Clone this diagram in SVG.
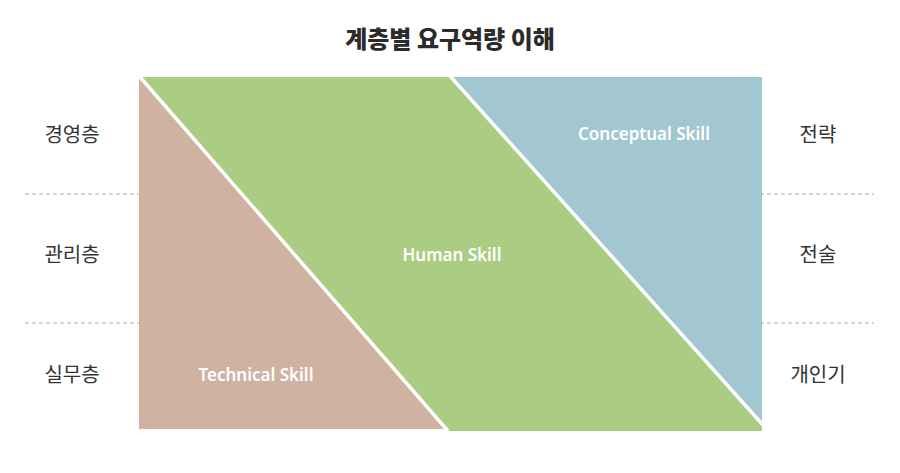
<svg xmlns="http://www.w3.org/2000/svg" width="900" height="473" viewBox="0 0 900 473">
<style>
.lab{font-family:"Noto Sans CJK KR","Noto Sans",sans-serif;font-size:20px;fill:#333;text-anchor:middle}
.sk{font-family:"Noto Sans","Noto Sans CJK KR",sans-serif;font-size:17px;font-weight:600;fill:#fff;text-anchor:middle}
.dash{stroke:#aaa;stroke-width:1;stroke-dasharray:4 3}
.sep{stroke:#fff;stroke-width:3.5}
</style>
<rect width="900" height="473" fill="#fff"/>
<text x="450" y="48" class="lab" style="font-size:24px;font-weight:900;fill:#2b2b2b">계층별 요구역량 이해</text>
<g id="grid">
<line class="dash" x1="25" y1="194" x2="874" y2="194"/>
<line class="dash" x1="25" y1="323" x2="874" y2="323"/>
</g>
<g id="technical">
<polygon points="139,77 139,429 448,429" fill="#d0b2a2"/>
<text x="256" y="381" class="sk">Technical Skill</text>
</g>
<g id="human">
<polygon points="140,77 450,77 762,424 762,431 448,431" fill="#abcc83"/>
<text x="452" y="261" class="sk">Human Skill</text>
</g>
<g id="conceptual">
<polygon points="450,77 762,77 762,424" fill="#a2c7d0"/>
<text x="644" y="140" class="sk">Conceptual Skill</text>
</g>
<g id="connectors">
<line class="sep" x1="140" y1="77" x2="448" y2="431"/>
<line class="sep" x1="450" y1="76" x2="763" y2="425"/>
</g>
<g id="levels">
<text x="72" y="142" class="lab">경영층</text>
<text x="72" y="262" class="lab">관리층</text>
<text x="72" y="382" class="lab">실무층</text>
</g>
<g id="roles">
<text x="818" y="142" class="lab">전략</text>
<text x="818" y="262" class="lab">전술</text>
<text x="818" y="382" class="lab">개인기</text>
</g>
</svg>
